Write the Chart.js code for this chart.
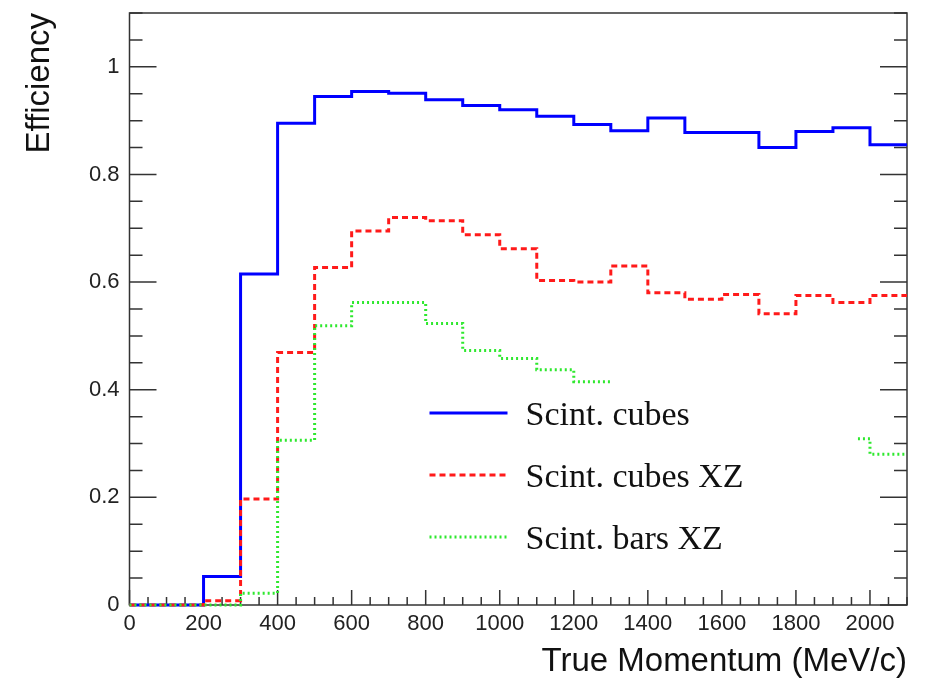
<!DOCTYPE html>
<html>
<head>
<meta charset="utf-8">
<title>Efficiency vs True Momentum</title>
<script src="https://cdn.jsdelivr.net/npm/chart.js@4.4.1/dist/chart.umd.min.js"></script>
<style>
    html, body { margin: 0; padding: 0; background: #fff; }
    #wrap { width: 938px; height: 682px; }
</style>
</head>
<body>
<div id="wrap"><canvas id="eff" width="938" height="682"></canvas></div>
<script>
    "use strict";

    // 100 MeV/c bins, 0 -> 2100
    const binEdges = [0, 100, 200, 300, 400, 500, 600, 700, 800, 900, 1000,
        1100, 1200, 1300, 1400, 1500, 1600, 1700, 1800, 1900, 2000, 2100];

    const cubesEff = [0, 0, 0.053, 0.615, 0.895, 0.945, 0.954, 0.951, 0.939, 0.928, 0.920,
        0.908, 0.893, 0.881, 0.905, 0.878, 0.878, 0.850, 0.880, 0.887, 0.855];

    const cubesXZEff = [0, 0, 0.008, 0.197, 0.469, 0.627, 0.695, 0.720, 0.714, 0.688, 0.662,
        0.603, 0.600, 0.630, 0.580, 0.568, 0.577, 0.541, 0.575, 0.562, 0.575];

    // bins 1300-1900 sit behind the legend box, not readable
    const barsXZEff = [0, 0, 0, 0.022, 0.306, 0.519, 0.562, 0.562, 0.523, 0.473, 0.458,
        0.437, 0.415, null, null, null, null, null, null, 0.309, 0.280];

    const xTickValues = [0, 200, 400, 600, 800, 1000, 1200, 1400, 1600, 1800, 2000];
    const yTickValues = [0, 0.2, 0.4, 0.6, 0.8, 1];

    const AXIS_FONT = '"Liberation Sans", Arial, Helvetica, sans-serif';
    const LEGEND_FONT = '"Liberation Serif", "Times New Roman", serif';

    function histPoints(values) {
        const pts = [];
        values.forEach((v, i) => {
            if (v === null) {
                pts.push({ x: binEdges[i], y: null });
                return;
            }
            pts.push({ x: binEdges[i], y: v }, { x: binEdges[i + 1], y: v });
        });
        return pts;
    }

    function isIn(list, value) {
        return list.some(v => Math.abs(v - value) < 1e-6);
    }

    // ROOT style frame: box + inward ticks (left/right/bottom)
    const framePlugin = {
        id: "rootFrame",
        beforeDatasetsDraw(chart) {
            const { ctx, chartArea: ca, scales } = chart;
            const x = scales.x, y = scales.y;
            ctx.save();
            ctx.strokeStyle = "#333";
            ctx.lineWidth = 1.5;
            ctx.strokeRect(ca.left, ca.top, ca.right - ca.left, ca.bottom - ca.top);
            ctx.beginPath();
            y.ticks.forEach(t => {
                const py = y.getPixelForValue(t.value);
                const len = isIn(yTickValues, t.value) ? 27 : 13;
                ctx.moveTo(ca.left, py); ctx.lineTo(ca.left + len, py);
                ctx.moveTo(ca.right, py); ctx.lineTo(ca.right - len, py);
            });
            x.ticks.forEach(t => {
                const px = x.getPixelForValue(t.value);
                const len = isIn(xTickValues, t.value) ? 15 : 8;
                ctx.moveTo(px, ca.bottom); ctx.lineTo(px, ca.bottom - len);
            });
            ctx.stroke();
            ctx.restore();
        }
    };

    // legend with white fill drawn over the histograms, like TLegend
    const legendPlugin = {
        id: "rootLegend",
        afterDatasetsDraw(chart) {
            const { ctx, chartArea: ca } = chart;
            ctx.save();
            ctx.fillStyle = "#fff";
            ctx.fillRect(ca.left + 290, ca.top + 372, 437, 187);
            chart.data.datasets.forEach((ds, i) => {
                const y = ca.top + 400 + i * 62;
                ctx.beginPath();
                ctx.strokeStyle = ds.borderColor;
                ctx.lineWidth = ds.borderWidth;
                ctx.setLineDash(ds.borderDash || []);
                ctx.moveTo(ca.left + 300, y);
                ctx.lineTo(ca.left + 378, y);
                ctx.stroke();
                ctx.setLineDash([]);
                ctx.fillStyle = "#111";
                ctx.font = "34px " + LEGEND_FONT;
                ctx.textAlign = "left";
                ctx.textBaseline = "alphabetic";
                ctx.fillText(ds.label, ca.left + 396, y + 12);
            });
            ctx.restore();
        }
    };

    new Chart(document.getElementById("eff").getContext("2d"), {
        type: "line",
        data: {
            datasets: [
                { label: "Scint. cubes", data: histPoints(cubesEff), borderColor: "#0000ff", borderWidth: 3, order: 3 },
                { label: "Scint. cubes XZ", data: histPoints(cubesXZEff), borderColor: "#ff1a1a", borderWidth: 3, borderDash: [6, 4], order: 2 },
                { label: "Scint. bars XZ", data: histPoints(barsXZEff), borderColor: "#2ee82e", borderWidth: 3, borderDash: [2, 3], order: 1 }
            ].map(ds => Object.assign(ds, { pointRadius: 0, tension: 0, fill: false, spanGaps: false, clip: 4 }))
        },
        options: {
            responsive: false,
            animation: false,
            events: [],
            layout: { padding: { top: 13, right: 31, left: 0, bottom: 0 } },
            plugins: { legend: { display: false }, tooltip: { enabled: false } },
            scales: {
                x: {
                    type: "linear",
                    min: 0,
                    max: 2100,
                    afterFit(scale) {
                        scale.height = 77;
                        scale.paddingLeft = 0;
                        scale.paddingRight = 0;
                    },
                    grid: { display: false, drawTicks: false },
                    border: { display: false },
                    ticks: {
                        stepSize: 50,
                        autoSkip: false,
                        maxRotation: 0,
                        padding: 6,
                        color: "#222",
                        font: { family: AXIS_FONT, size: 22 },
                        callback: v => isIn(xTickValues, v) ? String(Math.round(v)) : ""
                    },
                    title: {
                        display: true,
                        text: "True Momentum (MeV/c)",
                        align: "end",
                        color: "#111",
                        padding: { top: 0, bottom: 0 },
                        font: { family: AXIS_FONT, size: 33 }
                    }
                },
                y: {
                    min: 0,
                    max: 1.1,
                    afterFit(scale) {
                        scale.width = 129.5;
                        scale.paddingTop = 0;
                        scale.paddingBottom = 0;
                    },
                    grid: { display: false, drawTicks: false },
                    border: { display: false },
                    ticks: {
                        stepSize: 0.05,
                        autoSkip: false,
                        padding: 10,
                        color: "#222",
                        font: { family: AXIS_FONT, size: 22 },
                        callback: v => isIn(yTickValues, v) ? String(+v.toFixed(1)) : ""
                    },
                    title: {
                        display: true,
                        text: "Efficiency",
                        align: "end",
                        color: "#111",
                        padding: { top: 20, bottom: 0 },
                        font: { family: AXIS_FONT, size: 33 }
                    }
                }
            }
        },
        plugins: [framePlugin, legendPlugin]
    });
</script>
</body>
</html>
